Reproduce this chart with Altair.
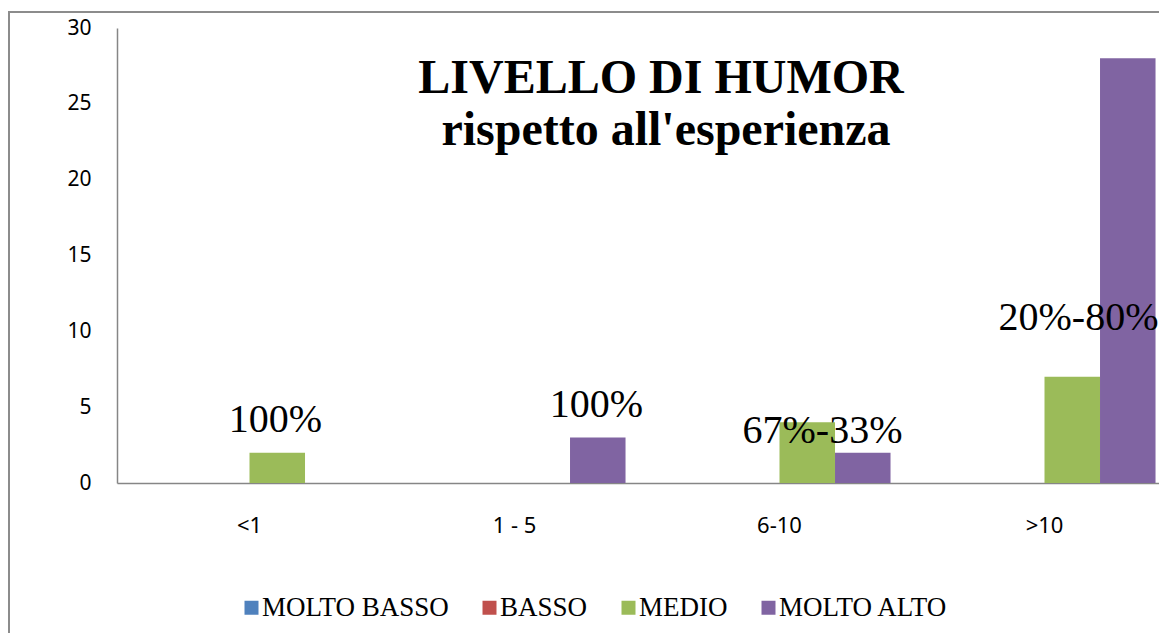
import altair as alt
import pandas as pd

# ---- data ----
categories = ["<1", "1 - 5", "6-10", ">10"]
series_names = ["MOLTO BASSO", "BASSO", "MEDIO", "MOLTO ALTO"]
molto_basso = [0, 0, 0, 0]
basso = [0, 0, 0, 0]
medio = [2, 0, 4, 7]
molto_alto = [0, 3, 2, 28]
series_colors = ["#4F81BD", "#C0504D", "#9BBB59", "#8064A2"]

label_categories = ["<1", "1 - 5", "6-10", ">10"]
label_texts = ["100%", "100%", "67%-33%", "20%-80%"]
label_levels = [3.36, 4.35, 2.64, 10.09]
label_nudges = [26, 82, 43, 34]

title_line1 = "LIVELLO DI HUMOR"
title_line2 = "rispetto all'esperienza"

rows = []
for name, vals in zip(series_names, [molto_basso, basso, medio, molto_alto]):
    for c, v in zip(categories, vals):
        rows.append({"categoria": c, "serie": name, "valore": v})
df = pd.DataFrame(rows)

SERIF = "Liberation Serif"
SANS = "Noto Sans"
GRAY = "#868686"

x_enc = alt.X(
    "categoria:N",
    sort=categories,
    scale=alt.Scale(domain=categories, paddingInner=0.162, paddingOuter=0.081),
    axis=alt.Axis(title=None, labelAngle=0, ticks=False, labelPadding=32,
                  labelFont=SANS, labelFontSize=22, labelColor="black",
                  domainColor=GRAY, domainWidth=1.5, grid=False),
)
y_enc = alt.Y(
    "valore:Q",
    scale=alt.Scale(domain=[0, 30], nice=False),
    axis=alt.Axis(title=None, values=[0, 5, 10, 15, 20, 25, 30], ticks=False,
                  labelPadding=26, labelFont=SANS, labelFontSize=21, labelColor="black",
                  domainColor=GRAY, domainWidth=1.5, grid=False),
)

bars = alt.Chart(df).mark_bar().encode(
    x=x_enc,
    xOffset=alt.XOffset("serie:N", sort=series_names,
                        scale=alt.Scale(domain=series_names, paddingInner=0, paddingOuter=0)),
    y=y_enc,
    color=alt.Color(
        "serie:N",
        sort=series_names,
        scale=alt.Scale(domain=series_names, range=series_colors),
        legend=alt.Legend(
            title=None, orient="none", legendX=121, legendY=566, direction="horizontal",
            symbolType="square", symbolSize=196, symbolStrokeWidth=0, symbolOpacity=1,
            labelFont=SERIF, labelFontSize=27, labelColor="black",
            labelOffset={"expr": "-3"},
            columnPadding=27, labelLimit=400,
        ),
    ),
)

layers = [bars]

lab_df = pd.DataFrame({"categoria": label_categories, "testo": label_texts, "valore": label_levels})
for cat, nudge in zip(label_categories, label_nudges):
    layers.append(
        alt.Chart(lab_df).transform_filter(alt.datum.categoria == cat)
        .mark_text(font=SERIF, fontSize=40, color="black", align="center",
                   baseline="alphabetic", dx=nudge)
        .encode(x=alt.X("categoria:N", sort=categories), y=alt.Y("valore:Q"), text="testo:N")
    )

t1 = alt.Chart(pd.DataFrame({"t": [title_line1]})).mark_text(
    font=SERIF, fontSize=48, fontWeight="bold", color="black", align="center", baseline="alphabetic"
).encode(x=alt.value(544), y=alt.value(65), text="t:N")
t2 = alt.Chart(pd.DataFrame({"t": [title_line2]})).mark_text(
    font=SERIF, fontSize=48, fontWeight="bold", color="black", align="center", baseline="alphabetic"
).encode(x=alt.value(549), y=alt.value(117), text="t:N")

frame = alt.Chart(pd.DataFrame({"f": [0]})).mark_rect(
    fillOpacity=0, stroke="#8C8C8C", strokeWidth=2
).encode(x=alt.value(-108), x2=alt.value(1200), y=alt.value(-16), y2=alt.value(700))

chart = alt.layer(frame, *layers, t1, t2).properties(
    width=1060, height=455,
    autosize=alt.AutoSizeParams(type="none"),
    padding={"left": 109, "top": 20, "right": -18, "bottom": 150},
).configure_view(stroke=None)

chart.save("out.html", embed_options={"renderer": "svg", "actions": False})
